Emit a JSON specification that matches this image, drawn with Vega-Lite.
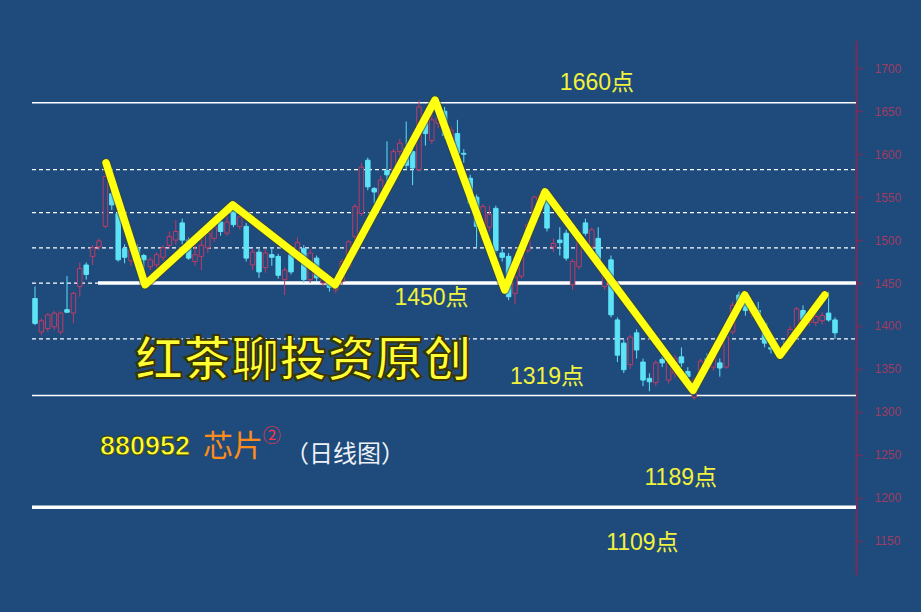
{
  "$schema": "https://vega.github.io/schema/vega-lite/v6.json",
  "width": 824,
  "height": 535,
  "autosize": {"type": "none"},
  "padding": {"left": 32, "top": 40, "right": 65, "bottom": 37},
  "background": "#1e4a7c",
  "config": {"view": {"stroke": null}},
  "datasets": {
    "levels": [
      {"v": 1660, "kind": "thin", "x0": -0.47, "x1": 128.28},
      {"v": 1319, "kind": "thin", "x0": -0.47, "x1": 128.28},
      {"v": 1189, "kind": "thick", "x0": -0.47, "x1": 128.28},
      {"v": 1450, "kind": "thick", "x0": 9.84, "x1": 128.28},
      {"v": 1450, "kind": "dash", "x0": -0.47, "x1": 9.84},
      {"v": 1582, "kind": "dash", "x0": -0.47, "x1": 128.28},
      {"v": 1532, "kind": "dash", "x0": -0.47, "x1": 128.28},
      {"v": 1491, "kind": "dash", "x0": -0.47, "x1": 128.28},
      {"v": 1385, "kind": "dash", "x0": -0.47, "x1": 128.28}
    ],
    "candles": [
      {"i":0,"o":1432,"h":1446,"l":1401,"c":1403},
      {"i":1,"o":1393,"h":1409,"l":1389,"c":1406},
      {"i":2,"o":1397,"h":1415,"l":1393,"c":1413},
      {"i":3,"o":1399,"h":1418,"l":1395,"c":1415},
      {"i":4,"o":1393,"h":1417,"l":1390,"c":1415},
      {"i":5,"o":1419,"h":1458,"l":1415,"c":1416},
      {"i":6,"o":1415,"h":1440,"l":1403,"c":1438},
      {"i":7,"o":1446,"h":1474,"l":1434,"c":1467},
      {"i":8,"o":1471,"h":1474,"l":1454,"c":1460},
      {"i":9,"o":1481,"h":1494,"l":1471,"c":1491},
      {"i":10,"o":1492,"h":1502,"l":1488,"c":1499},
      {"i":11,"o":1516,"h":1590,"l":1514,"c":1574},
      {"i":12,"o":1554,"h":1566,"l":1535,"c":1541},
      {"i":13,"o":1531,"h":1533,"l":1475,"c":1477},
      {"i":14,"o":1490,"h":1495,"l":1473,"c":1480},
      {"i":15,"o":1476,"h":1492,"l":1470,"c":1488},
      {"i":16,"o":1490,"h":1495,"l":1470,"c":1482},
      {"i":17,"o":1482,"h":1484,"l":1461,"c":1477},
      {"i":18,"o":1469,"h":1480,"l":1465,"c":1477},
      {"i":19,"o":1471,"h":1486,"l":1468,"c":1483},
      {"i":20,"o":1480,"h":1494,"l":1476,"c":1491},
      {"i":21,"o":1494,"h":1510,"l":1490,"c":1504},
      {"i":22,"o":1500,"h":1523,"l":1495,"c":1510},
      {"i":23,"o":1520,"h":1525,"l":1495,"c":1500},
      {"i":24,"o":1500,"h":1503,"l":1477,"c":1479},
      {"i":25,"o":1475,"h":1500,"l":1470,"c":1483},
      {"i":26,"o":1481,"h":1510,"l":1465,"c":1494},
      {"i":27,"o":1491,"h":1512,"l":1485,"c":1508},
      {"i":28,"o":1502,"h":1520,"l":1498,"c":1515},
      {"i":29,"o":1521,"h":1526,"l":1505,"c":1510},
      {"i":30,"o":1508,"h":1530,"l":1505,"c":1521},
      {"i":31,"o":1533,"h":1540,"l":1515,"c":1518},
      {"i":32,"o":1516,"h":1530,"l":1512,"c":1527},
      {"i":33,"o":1516,"h":1520,"l":1475,"c":1479},
      {"i":34,"o":1471,"h":1490,"l":1465,"c":1486},
      {"i":35,"o":1486,"h":1490,"l":1456,"c":1463},
      {"i":36,"o":1468,"h":1490,"l":1462,"c":1485},
      {"i":37,"o":1483,"h":1492,"l":1470,"c":1480},
      {"i":38,"o":1481,"h":1484,"l":1455,"c":1459},
      {"i":39,"o":1454,"h":1468,"l":1436,"c":1465},
      {"i":40,"o":1483,"h":1488,"l":1460,"c":1463},
      {"i":41,"o":1479,"h":1503,"l":1475,"c":1497},
      {"i":42,"o":1490,"h":1494,"l":1450,"c":1454},
      {"i":43,"o":1454,"h":1490,"l":1450,"c":1485},
      {"i":44,"o":1479,"h":1482,"l":1452,"c":1456},
      {"i":45,"o":1450,"h":1462,"l":1446,"c":1458},
      {"i":46,"o":1448,"h":1452,"l":1440,"c":1445},
      {"i":47,"o":1442,"h":1456,"l":1438,"c":1452},
      {"i":48,"o":1452,"h":1478,"l":1448,"c":1475},
      {"i":49,"o":1469,"h":1500,"l":1466,"c":1498},
      {"i":50,"o":1504,"h":1542,"l":1500,"c":1539},
      {"i":51,"o":1531,"h":1590,"l":1528,"c":1585},
      {"i":52,"o":1593,"h":1596,"l":1558,"c":1562},
      {"i":53,"o":1560,"h":1562,"l":1543,"c":1556},
      {"i":54,"o":1547,"h":1575,"l":1545,"c":1570},
      {"i":55,"o":1581,"h":1615,"l":1558,"c":1576},
      {"i":56,"o":1582,"h":1606,"l":1578,"c":1603},
      {"i":57,"o":1603,"h":1618,"l":1597,"c":1613},
      {"i":58,"o":1607,"h":1638,"l":1582,"c":1587},
      {"i":59,"o":1603,"h":1606,"l":1564,"c":1584},
      {"i":60,"o":1582,"h":1663,"l":1580,"c":1655},
      {"i":61,"o":1640,"h":1645,"l":1610,"c":1624},
      {"i":62,"o":1616,"h":1660,"l":1612,"c":1640},
      {"i":63,"o":1636,"h":1650,"l":1630,"c":1643},
      {"i":64,"o":1650,"h":1655,"l":1618,"c":1622},
      {"i":65,"o":1612,"h":1632,"l":1608,"c":1628},
      {"i":66,"o":1624,"h":1640,"l":1598,"c":1601},
      {"i":67,"o":1601,"h":1606,"l":1590,"c":1600},
      {"i":68,"o":1572,"h":1576,"l":1538,"c":1543},
      {"i":69,"o":1550,"h":1553,"l":1492,"c":1516},
      {"i":70,"o":1508,"h":1542,"l":1504,"c":1539},
      {"i":71,"o":1515,"h":1540,"l":1510,"c":1530},
      {"i":72,"o":1537,"h":1540,"l":1485,"c":1488},
      {"i":73,"o":1485,"h":1490,"l":1475,"c":1480},
      {"i":74,"o":1481,"h":1485,"l":1430,"c":1434},
      {"i":75,"o":1438,"h":1462,"l":1425,"c":1457},
      {"i":76,"o":1458,"h":1492,"l":1455,"c":1488},
      {"i":77,"o":1488,"h":1522,"l":1485,"c":1518},
      {"i":78,"o":1520,"h":1552,"l":1516,"c":1550},
      {"i":79,"o":1535,"h":1558,"l":1530,"c":1552},
      {"i":80,"o":1547,"h":1552,"l":1510,"c":1514},
      {"i":81,"o":1492,"h":1502,"l":1486,"c":1496},
      {"i":82,"o":1500,"h":1515,"l":1482,"c":1497},
      {"i":83,"o":1508,"h":1512,"l":1476,"c":1479},
      {"i":84,"o":1448,"h":1478,"l":1442,"c":1475},
      {"i":85,"o":1469,"h":1503,"l":1466,"c":1500},
      {"i":86,"o":1520,"h":1525,"l":1505,"c":1508},
      {"i":87,"o":1492,"h":1515,"l":1488,"c":1512},
      {"i":88,"o":1502,"h":1515,"l":1474,"c":1477},
      {"i":89,"o":1446,"h":1465,"l":1442,"c":1462},
      {"i":90,"o":1477,"h":1482,"l":1410,"c":1413},
      {"i":91,"o":1407,"h":1410,"l":1358,"c":1366},
      {"i":92,"o":1380,"h":1384,"l":1345,"c":1349},
      {"i":93,"o":1355,"h":1390,"l":1350,"c":1387},
      {"i":94,"o":1392,"h":1396,"l":1362,"c":1372},
      {"i":95,"o":1358,"h":1362,"l":1330,"c":1337},
      {"i":96,"o":1339,"h":1345,"l":1324,"c":1335},
      {"i":97,"o":1334,"h":1360,"l":1330,"c":1357},
      {"i":98,"o":1361,"h":1364,"l":1352,"c":1357},
      {"i":99,"o":1337,"h":1360,"l":1333,"c":1357},
      {"i":100,"o":1345,"h":1366,"l":1340,"c":1362},
      {"i":101,"o":1364,"h":1375,"l":1352,"c":1357},
      {"i":102,"o":1347,"h":1352,"l":1336,"c":1341},
      {"i":103,"o":1317,"h":1340,"l":1314,"c":1337},
      {"i":104,"o":1339,"h":1362,"l":1335,"c":1359},
      {"i":105,"o":1362,"h":1368,"l":1355,"c":1359},
      {"i":106,"o":1352,"h":1372,"l":1348,"c":1368},
      {"i":107,"o":1357,"h":1362,"l":1341,"c":1351},
      {"i":108,"o":1352,"h":1390,"l":1350,"c":1387},
      {"i":109,"o":1393,"h":1428,"l":1390,"c":1424},
      {"i":110,"o":1436,"h":1440,"l":1420,"c":1427},
      {"i":111,"o":1430,"h":1438,"l":1412,"c":1418},
      {"i":112,"o":1415,"h":1428,"l":1410,"c":1422},
      {"i":113,"o":1418,"h":1428,"l":1405,"c":1409},
      {"i":114,"o":1403,"h":1406,"l":1375,"c":1380},
      {"i":115,"o":1375,"h":1380,"l":1368,"c":1373},
      {"i":116,"o":1368,"h":1380,"l":1362,"c":1376},
      {"i":117,"o":1376,"h":1382,"l":1370,"c":1374},
      {"i":118,"o":1378,"h":1400,"l":1374,"c":1396},
      {"i":119,"o":1395,"h":1422,"l":1390,"c":1420},
      {"i":120,"o":1418,"h":1424,"l":1402,"c":1407},
      {"i":121,"o":1404,"h":1418,"l":1400,"c":1413},
      {"i":122,"o":1404,"h":1414,"l":1400,"c":1411},
      {"i":123,"o":1406,"h":1416,"l":1402,"c":1412},
      {"i":124,"o":1415,"h":1440,"l":1405,"c":1407},
      {"i":125,"o":1407,"h":1410,"l":1385,"c":1392}
    ],
    "zig": [
      {"i": 11.1, "v": 1590},
      {"i": 17.2, "v": 1448},
      {"i": 30.9, "v": 1541},
      {"i": 46.9, "v": 1448},
      {"i": 62.5, "v": 1663},
      {"i": 73.4, "v": 1442},
      {"i": 79.7, "v": 1556},
      {"i": 102.8, "v": 1325},
      {"i": 110.9, "v": 1436},
      {"i": 116.4, "v": 1366},
      {"i": 123.4, "v": 1436}
    ],
    "marks": [
      {"i": 87.8, "v": 1683, "text": "1660点"},
      {"i": 61.95, "v": 1432.5, "text": "1450点"},
      {"i": 80.0, "v": 1340.6, "text": "1319点"},
      {"i": 100.9, "v": 1223, "text": "1189点"},
      {"i": 94.9, "v": 1147.3, "text": "1109点"}
    ]
  },
  "layer": [
    {
      "data": {"name": "levels"},
      "transform": [{"filter": "datum.kind == 'thin'"}],
      "mark": {"type": "rule", "color": "#ffffff", "strokeWidth": 1.5},
      "encoding": {
        "y": {"field": "v", "type": "quantitative", "title": null, "scale": {"domain": [1110, 1733], "nice": false, "zero": false, "padding": 0},
          "axis": {"orient": "right", "title": null, "format": "d", "values": [1150, 1200, 1250, 1300, 1350, 1400, 1450, 1500, 1550, 1600, 1650, 1700],
            "grid": false, "domainColor": "#7a2c58", "domainWidth": 2, "tickColor": "#7a2c58", "tickSize": 6, "tickWidth": 1.5,
            "labelColor": "#9e3c62", "labelFontSize": 12, "labelFont": "Liberation Sans", "labelPadding": 12, "labelAlign": "left", "labelBaseline": "middle"}},
        "x": {"field": "x0", "type": "quantitative", "title": null, "scale": {"domain": [-0.47, 128.28], "nice": false, "zero": false, "padding": 0}, "axis": null},
        "x2": {"field": "x1"}
      }
    },
    {
      "data": {"name": "levels"},
      "transform": [{"filter": "datum.kind == 'dash'"}],
      "mark": {"type": "rule", "color": "#ffffff", "strokeWidth": 1.2, "strokeDash": [4, 3]},
      "encoding": {
        "y": {"field": "v", "type": "quantitative", "title": null},
        "x": {"field": "x0", "type": "quantitative", "axis": null},
        "x2": {"field": "x1"}
      }
    },
    {
      "data": {"name": "levels"},
      "transform": [{"filter": "datum.kind == 'thick'"}],
      "mark": {"type": "rule", "color": "#ffffff", "strokeWidth": 3.5},
      "encoding": {
        "y": {"field": "v", "type": "quantitative", "title": null},
        "x": {"field": "x0", "type": "quantitative", "axis": null},
        "x2": {"field": "x1"}
      }
    },
    {
      "data": {"name": "candles"},
      "mark": {"type": "rule", "strokeWidth": 1},
      "encoding": {
        "x": {"field": "i", "type": "quantitative", "axis": null},
        "y": {"field": "l", "type": "quantitative", "title": null},
        "y2": {"field": "h"},
        "color": {"condition": {"test": "datum.c >= datum.o", "value": "#c23b63"}, "value": "#5de2f6"}
      }
    },
    {
      "data": {"name": "candles"},
      "mark": {"type": "bar", "size": 4.5, "strokeWidth": 1, "orient": "vertical"},
      "encoding": {
        "x": {"field": "i", "type": "quantitative", "axis": null},
        "y": {"field": "o", "type": "quantitative", "title": null},
        "y2": {"field": "c"},
        "fill": {"condition": {"test": "datum.c >= datum.o", "value": "#1e4a7c"}, "value": "#5de2f6"},
        "stroke": {"condition": {"test": "datum.c >= datum.o", "value": "#c23b63"}, "value": "#5de2f6"}
      }
    },
    {
      "data": {"name": "zig"},
      "mark": {"type": "line", "color": "#3d4630", "strokeWidth": 10, "strokeCap": "round", "strokeJoin": "round", "opacity": 0.55},
      "encoding": {
        "x": {"field": "i", "type": "quantitative", "axis": null},
        "y": {"field": "v", "type": "quantitative", "title": null}
      }
    },
    {
      "data": {"name": "zig"},
      "mark": {"type": "line", "color": "#ffff10", "strokeWidth": 7.5, "strokeCap": "round", "strokeJoin": "round"},
      "encoding": {
        "x": {"field": "i", "type": "quantitative", "axis": null},
        "y": {"field": "v", "type": "quantitative", "title": null}
      }
    },
    {
      "data": {"name": "marks"},
      "mark": {"type": "text", "color": "#f2f23c", "fontSize": 23, "font": "Liberation Sans, Noto Sans CJK SC", "align": "center", "baseline": "middle"},
      "encoding": {
        "x": {"field": "i", "type": "quantitative", "axis": null},
        "y": {"field": "v", "type": "quantitative", "title": null},
        "text": {"field": "text"}
      }
    },
    {
      "data": {"values": [{"i": 41.9, "v": 1358, "text": "红茶聊投资原创"}]},
      "mark": {"type": "text", "color": "#ffff33", "stroke": "#3a3400", "strokeWidth": 2, "fontSize": 48, "fontWeight": "bold", "font": "Noto Sans CJK SC", "align": "center", "baseline": "middle"},
      "encoding": {
        "x": {"field": "i", "type": "quantitative", "axis": null},
        "y": {"field": "v", "type": "quantitative", "title": null},
        "text": {"field": "text"}
      }
    },
    {
      "data": {"values": [{"i": 10.16, "v": 1259, "text": "880952"}]},
      "mark": {"type": "text", "color": "#ffff33", "stroke": "#3a3a00", "strokeWidth": 0.8, "fontSize": 27, "fontWeight": "bold", "font": "Liberation Sans", "align": "left", "baseline": "middle"},
      "encoding": {
        "x": {"field": "i", "type": "quantitative", "axis": null},
        "y": {"field": "v", "type": "quantitative", "title": null},
        "text": {"field": "text"}
      }
    },
    {
      "data": {"values": [{"i": 26.25, "v": 1259, "text": "芯片"}]},
      "mark": {"type": "text", "color": "#ff8c1a", "fontSize": 30, "font": "Noto Sans CJK SC", "align": "left", "baseline": "middle"},
      "encoding": {
        "x": {"field": "i", "type": "quantitative", "axis": null},
        "y": {"field": "v", "type": "quantitative", "title": null},
        "text": {"field": "text"}
      }
    },
    {
      "data": {"values": [{"i": 37.0, "v": 1270.7, "text": "②"}]},
      "mark": {"type": "text", "color": "#ff3448", "fontSize": 18, "font": "Noto Sans CJK SC", "align": "center", "baseline": "middle"},
      "encoding": {
        "x": {"field": "i", "type": "quantitative", "axis": null},
        "y": {"field": "v", "type": "quantitative", "title": null},
        "text": {"field": "text"}
      }
    },
    {
      "data": {"values": [{"i": 39.06, "v": 1250, "text": "（日线图）"}]},
      "mark": {"type": "text", "color": "#eef2f8", "fontSize": 24, "font": "Noto Sans CJK SC", "align": "left", "baseline": "middle"},
      "encoding": {
        "x": {"field": "i", "type": "quantitative", "axis": null},
        "y": {"field": "v", "type": "quantitative", "title": null},
        "text": {"field": "text"}
      }
    }
  ]
}
